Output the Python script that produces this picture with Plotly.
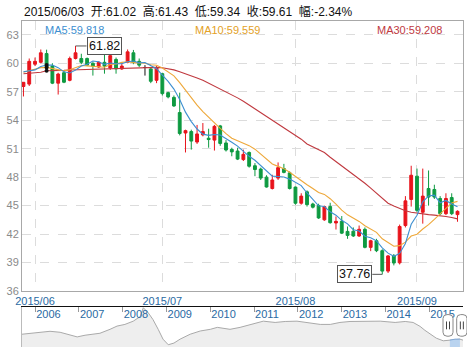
import plotly.graph_objects as go
import pandas as pd

# ---------------- data ----------------
dates = [
    "2015/05/28", "2015/05/29",
    "2015/06/01", "2015/06/02", "2015/06/03", "2015/06/04", "2015/06/05",
    "2015/06/08", "2015/06/09", "2015/06/10", "2015/06/11", "2015/06/12",
    "2015/06/15", "2015/06/16", "2015/06/17", "2015/06/18", "2015/06/19",
    "2015/06/22", "2015/06/23", "2015/06/24", "2015/06/25", "2015/06/26",
    "2015/06/29", "2015/06/30",
    "2015/07/01", "2015/07/02", "2015/07/03",
    "2015/07/06", "2015/07/07", "2015/07/08", "2015/07/09", "2015/07/10",
    "2015/07/13", "2015/07/14", "2015/07/15", "2015/07/16", "2015/07/17",
    "2015/07/20", "2015/07/21", "2015/07/22", "2015/07/23", "2015/07/24",
    "2015/07/27", "2015/07/28", "2015/07/29", "2015/07/30", "2015/07/31",
    "2015/08/03", "2015/08/04", "2015/08/05", "2015/08/06", "2015/08/07",
    "2015/08/10", "2015/08/11", "2015/08/12", "2015/08/13", "2015/08/14",
    "2015/08/17", "2015/08/18", "2015/08/19", "2015/08/20", "2015/08/21",
    "2015/08/24", "2015/08/25", "2015/08/26", "2015/08/27", "2015/08/28",
    "2015/08/31",
    "2015/09/01", "2015/09/02", "2015/09/07", "2015/09/08", "2015/09/09",
    "2015/09/10", "2015/09/11", "2015/09/14",
]
opens = [57.55, 57.8, 59.9, 60.1, 61.02, 59.7, 57.9, 59.0, 58.2, 60.5,
         60.5, 60.5, 60.0, 59.6, 60.1, 59.5, 60.4, 59.4, 60.1, 61.1,
         60.2, 59.55, 59.4, 58.2, 58.9, 56.9, 56.4, 54.8, 52.65, 52.8,
         51.7, 52.45, 52.1, 51.9, 53.4, 51.6, 50.93, 50.75, 49.85, 50.6,
         49.2, 48.85, 48.0, 46.8, 47.9, 48.9, 48.45, 46.95, 45.25, 46.45,
         45.17, 45.0, 43.5, 44.9, 43.17, 43.35, 42.28, 42.3, 41.8, 42.5,
         40.6, 41.3, 40.25, 38.1, 39.7, 38.97, 42.9, 45.65, 48.1, 44.3,
         46.8, 46.7, 45.75, 44.15, 45.85, 44.05]
highs = [58.0, 60.5, 60.6, 61.45, 61.43, 60.0, 59.0, 59.2, 60.7, 61.82,
         61.0, 60.6, 60.1, 60.2, 61.3, 61.0, 60.6, 60.1, 61.45, 61.4,
         60.5, 59.8, 59.5, 59.7, 59.0, 57.0, 56.6, 56.9, 53.0, 53.0,
         53.5, 53.7, 53.1, 53.5, 53.5, 51.9, 51.1, 51.1, 50.9, 50.7,
         49.48, 49.0, 48.2, 48.25, 49.55, 49.4, 48.6, 47.0, 46.3, 46.6,
         45.3, 45.2, 45.0, 45.3, 43.86, 43.9, 42.8, 42.7, 42.9, 42.7,
         41.4, 41.5, 40.4, 39.8, 39.9, 43.0, 46.0, 49.2, 48.9, 48.9,
         48.7, 47.2, 46.0, 46.3, 46.3, 44.5]
lows = [56.5, 57.6, 59.7, 60.0, 59.34, 57.8, 56.7, 57.9, 58.1, 60.4,
        59.9, 59.7, 58.7, 59.5, 58.9, 59.3, 58.9, 59.3, 60.0, 59.9,
        59.6, 58.7, 57.9, 57.9, 56.6, 56.3, 55.4, 52.4, 50.6, 50.9,
        51.5, 52.3, 51.1, 50.8, 51.3, 50.7, 50.2, 49.8, 49.7, 49.0,
        48.1, 47.7, 46.9, 46.7, 47.7, 48.4, 46.7, 45.1, 45.1, 44.9,
        44.7, 43.6, 43.4, 43.1, 42.48, 42.0, 41.5, 41.7, 41.7, 40.5,
        40.2, 40.1, 37.76, 37.9, 38.7, 38.8, 42.7, 44.9, 44.3, 43.1,
        45.0, 45.7, 44.0, 44.0, 44.0, 43.3]
closes = [57.99, 60.2, 60.2, 61.1, 59.61, 57.9, 58.86, 58.0, 60.5, 61.1,
          60.1, 59.8, 59.7, 60.1, 59.7, 60.8, 59.4, 59.7, 61.2, 60.1,
          59.8, 59.55, 58.1, 59.55, 56.8, 56.45, 55.5, 52.6, 52.9, 51.8,
          52.55, 52.8, 51.96, 53.35, 51.55, 50.86, 50.66, 49.9, 50.4, 49.15,
          48.8, 47.9, 46.96, 47.7, 49.0, 48.5, 46.8, 45.25, 46.0, 45.1,
          44.83, 43.7, 44.9, 43.2, 43.34, 42.1, 41.86, 41.8, 42.5, 40.6,
          41.3, 40.25, 38.1, 39.7, 38.95, 42.8, 45.5, 48.2, 44.5, 46.0,
          45.9, 45.9, 44.15, 45.75, 44.15, 44.4]
# closes of the nine sessions before the first visible candle (for MA5 / MA10)
prev_closes = [58.5, 58.9, 59.2, 59.4, 59.0, 59.6, 59.8, 59.3, 58.8]
# MA30
ma30 = [58.9, 58.95, 59.0, 59.05, 59.208, 59.2, 59.2, 59.25, 59.28, 59.3,
        59.33, 59.36, 59.4, 59.42, 59.44, 59.46, 59.47, 59.48, 59.5, 59.52,
        59.55, 59.56, 59.57, 59.56, 59.52, 59.42, 59.3, 59.1, 58.9, 58.7,
        58.45, 58.2, 57.9, 57.6, 57.3, 56.95, 56.65, 56.35, 56.0, 55.6,
        55.2, 54.8, 54.4, 54.0, 53.6, 53.25, 52.85, 52.45, 52.0, 51.5,
        51.2, 50.9, 50.6, 50.1, 49.65, 49.2, 48.75, 48.3, 47.85, 47.35,
        46.85, 46.35, 45.8, 45.25, 44.95, 44.7, 44.45, 44.3, 44.2, 44.1,
        44.05, 44.0, 43.95, 43.85, 43.75, 43.6]

# values shown in the info line for the hovered session
hover_date = "2015/06/03"
hover_ohlc = {"开": "61.02", "高": "61.43", "低": "59.34", "收": "59.61", "幅": "-2.34%"}
hover_ma = {"MA5": "59.818", "MA10": "59.559", "MA30": "59.208"}

month_ticks = ["2015/06/01", "2015/07/01", "2015/08/03", "2015/09/01"]
month_labels = ["2015/06", "2015/07", "2015/08", "2015/09"]

# navigator (long-term overview, relative level)
nav_years = [2005.70, 2005.89, 2006.11, 2006.34, 2006.57, 2006.80, 2006.96, 2007.14,
             2007.48, 2007.71, 2007.87, 2008.05, 2008.24, 2008.40, 2008.47, 2008.58,
             2008.69, 2008.81, 2008.92, 2009.04, 2009.17, 2009.31, 2009.54, 2009.77,
             2010.00, 2010.16, 2010.45, 2010.68, 2010.91, 2011.21, 2011.48, 2011.71,
             2011.98, 2012.28, 2012.51, 2012.74, 2012.96, 2013.19, 2013.49, 2013.88,
             2014.22, 2014.45, 2014.63, 2014.79, 2014.90, 2015.02, 2015.16, 2015.32,
             2015.47, 2015.59, 2015.70, 2015.77]
nav_level = [13, 14, 15.5, 16, 15, 12, 10.3, 12,
             14, 18, 21.3, 23, 26.3, 31, 40, 35,
             28, 18, 8, 2.3, 4, 8, 13, 16.3,
             18, 20, 18, 20, 23, 26.3, 25, 26,
             26.3, 24, 23, 23, 25, 26, 26.3, 26.3,
             25, 26, 25, 21, 17, 13, 9, 6.3,
             7, 8, 8, 7]
nav_year_ticks = [2006, 2007, 2008, 2009, 2010, 2011, 2012, 2013, 2014, 2015]
sel_start, sel_end = 2015.45, 2015.72

# ---------------- derived ----------------
allc = pd.Series(prev_closes + closes)
ma5 = allc.rolling(5).mean().iloc[len(prev_closes):].round(3).tolist()
ma10 = allc.rolling(10).mean().iloc[len(prev_closes):].round(3).tolist()
hi = dates.index(hover_date)

RED = "#e8141c"
GREEN = "#0e9a41"
C5, C10, C30 = "#3d8fd1", "#eea83a", "#c0393f"
FONT = "Liberation Sans, Arial, Noto Sans CJK SC, sans-serif"
NB = "\u00a0\u00a0"

is_doji = [o == c for o, c in zip(opens, closes)]
def pick(vals, want):
    return [v if d == want else None for v, d in zip(vals, is_doji)]

fig = go.Figure()
fig.add_trace(go.Candlestick(
    x=dates, open=pick(opens, False), high=pick(highs, False),
    low=pick(lows, False), close=pick(closes, False),
    increasing=dict(line=dict(color=RED, width=1), fillcolor=RED),
    decreasing=dict(line=dict(color=GREEN, width=1), fillcolor=GREEN),
    whiskerwidth=0, xaxis="x", yaxis="y", hoverinfo="skip"))
fig.add_trace(go.Candlestick(
    x=dates, open=pick(opens, True), high=pick(highs, True),
    low=pick(lows, True), close=pick(closes, True),
    increasing=dict(line=dict(color="#111", width=1), fillcolor="#111"),
    decreasing=dict(line=dict(color="#111", width=1), fillcolor="#111"),
    whiskerwidth=0, xaxis="x", yaxis="y", hoverinfo="skip"))
for vals, col in [(ma30, C30), (ma10, C10), (ma5, C5)]:
    fig.add_trace(go.Scatter(x=dates, y=vals, mode="lines", line=dict(color=col, width=1.1),
                             xaxis="x", yaxis="y", hoverinfo="skip"))
fig.add_trace(go.Scatter(x=[dates[hi]] * 3, y=[ma5[hi], ma10[hi], ma30[hi]], mode="markers",
                         marker=dict(color="#111", size=4), xaxis="x", yaxis="y", hoverinfo="skip"))

# navigator
fig.add_trace(go.Scatter(x=nav_years, y=nav_level, mode="lines", line=dict(color="#a9a9a9", width=1),
                         fill="tozeroy", fillcolor="#eeeeee", xaxis="x2", yaxis="y2", hoverinfo="skip"))
sel_x = [x for x in nav_years if sel_start <= x <= sel_end]
sel_y = [nav_level[nav_years.index(x)] for x in sel_x]
fig.add_trace(go.Scatter(x=sel_x, y=sel_y, mode="lines", line=dict(color="#7fa7d6", width=1),
                         fill="tozeroy", fillcolor="#b9d3ef", xaxis="x2", yaxis="y2", hoverinfo="skip"))

H_PLOT = 332.0
def py(px):
    return (353 - px) / H_PLOT
def px_(x):
    return (x - 22) / 441.0

fig.update_layout(
    width=467, height=353, margin=dict(l=22, r=4, t=21, b=0),
    paper_bgcolor="white", plot_bgcolor="white", showlegend=False,
    font=dict(family=FONT, size=11, color="#333"),
    xaxis=dict(domain=[0, 1], anchor="y", type="category", range=[-0.25, 75.95],
               tickvals=month_ticks, ticktext=month_labels, ticks="",
               showgrid=True, gridcolor="#dcdcdc", griddash="dash", gridwidth=1,
               showline=True, linecolor="#a8a8a8", linewidth=1, mirror=True,
               tickfont=dict(color="#2a6aa3", size=11), rangeslider=dict(visible=False),
               zeroline=False),
    yaxis=dict(domain=[py(296), 1], anchor="x", range=[36, 64.45],
               tickvals=list(range(36, 64, 3)), ticks="",
               showgrid=True, gridcolor="#dcdcdc", griddash="dash", gridwidth=1,
               showline=True, linecolor="#a8a8a8", linewidth=1, mirror=True,
               tickfont=dict(color="#8a8a8a", size=11), zeroline=False),
    xaxis2=dict(domain=[0, 1], anchor="y2", range=[2005.70, 2015.77], side="top",
                tickvals=nav_year_ticks, ticks="inside", ticklen=5, tickcolor="#999",
                ticklabelposition="inside right", tickfont=dict(color="#2a6aa3", size=11),
                showline=True, linecolor="#111", linewidth=1, showgrid=False, zeroline=False),
    yaxis2=dict(domain=[0, py(312)], anchor="x2", range=[0, 41], showticklabels=False,
                showgrid=False, zeroline=False, showline=True, linecolor="#bbb", ticks=""),
)

header = hover_date + NB + NB.join(k + ":" + v for k, v in hover_ohlc.items())
ann = []
ann.append(dict(xref="paper", yref="paper", x=0, y=py(11), xanchor="left", yanchor="middle",
                text=header, showarrow=False, font=dict(size=12, color="#111", family=FONT)))
for (name, val), xp, col in zip(hover_ma.items(), [43, 193, 375], [C5, "#e3a126", C30]):
    ann.append(dict(xref="paper", yref="paper", x=px_(xp), y=py(30), xanchor="left", yanchor="middle",
                    text=name + ":" + val, showarrow=False, font=dict(size=11, color=col, family=FONT)))
imax = highs.index(max(highs))
imin = lows.index(min(lows))
ann.append(dict(x=dates[imax], y=highs[imax], xref="x", yref="y", text="%.2f" % highs[imax],
                showarrow=True, arrowhead=0, arrowwidth=1, arrowcolor="#555", ax=11, ay=0,
                xanchor="left", bgcolor="white", bordercolor="#555", borderwidth=1, borderpad=1,
                font=dict(size=12.5, color="#111", family=FONT)))
ann.append(dict(x=dates[imin], y=lows[imin], xref="x", yref="y", text="%.2f" % lows[imin],
                showarrow=True, arrowhead=0, arrowwidth=1, arrowcolor="#555", ax=-10, ay=0,
                xanchor="right", bgcolor="white", bordercolor="#555", borderwidth=1, borderpad=1,
                font=dict(size=12.5, color="#111", family=FONT)))
fig.update_layout(annotations=ann)

# navigator handles
def rounded(x0, x1, y0, y1, rx, ry):
    return (f"M {x0+rx} {y0} L {x1-rx} {y0} Q {x1} {y0} {x1} {y0-ry} L {x1} {y1+ry} "
            f"Q {x1} {y1} {x1-rx} {y1} L {x0+rx} {y1} Q {x0} {y1} {x0} {y1+ry} "
            f"L {x0} {y0-ry} Q {x0} {y0} {x0+rx} {y0} Z")
shapes = []
for a, b in [(443, 453), (456.7, 467)]:
    shapes.append(dict(type="path", xref="paper", yref="paper",
                       path=rounded(px_(a), px_(b), py(320), py(342), 4 / 441, 4 / 332),
                       fillcolor="white", line=dict(color="#888", width=1)))
    cx = (a + b) / 2
    for dx in (-1.5, 1.5):
        shapes.append(dict(type="line", xref="paper", yref="paper", x0=px_(cx + dx), x1=px_(cx + dx),
                           y0=py(327), y1=py(335), line=dict(color="#444", width=1)))
fig.update_layout(shapes=shapes)

fig.write_html("out.html")
